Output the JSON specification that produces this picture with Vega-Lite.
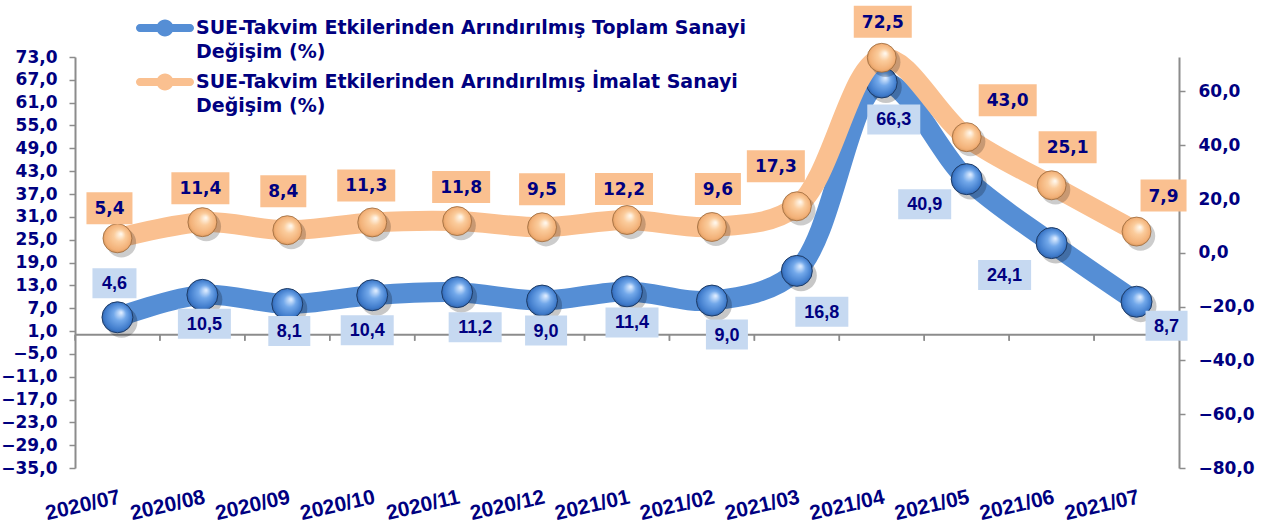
{
  "$schema": "https://vega.github.io/schema/vega-lite/v6.json",
  "width": 1104,
  "height": 411,
  "autosize": {"type": "none"},
  "padding": {"left": 75, "top": 57, "right": 86, "bottom": 56},
  "params": [
    {"name": "months", "value": ["2020/07","2020/08","2020/09","2020/10","2020/11","2020/12","2021/01","2021/02","2021/03","2021/04","2021/05","2021/06","2021/07"]},
    {"name": "bdx", "value": [-3,2,2,-5,18,4,5,15,25,12,-42,-47,30]},
    {"name": "bdy", "value": [-34,29,27,35,35,30,31,34,41,37,25,32,24]},
    {"name": "odx", "value": [-8,-2,-4,-6,4,0,-3,6,-21,1,41,16,27]},
    {"name": "ody", "value": [-30,-34,-39,-37,-34,-38,-31,-38,-40,-36,-37,-38,-36]}
  ],
  "data": {"values": [
    {"month": "2020/07", "seri": "SUE-Takvim Etkilerinden Arındırılmış Toplam Sanayi Değişim (%)", "value": 4.6},
    {"month": "2020/08", "seri": "SUE-Takvim Etkilerinden Arındırılmış Toplam Sanayi Değişim (%)", "value": 10.5},
    {"month": "2020/09", "seri": "SUE-Takvim Etkilerinden Arındırılmış Toplam Sanayi Değişim (%)", "value": 8.1},
    {"month": "2020/10", "seri": "SUE-Takvim Etkilerinden Arındırılmış Toplam Sanayi Değişim (%)", "value": 10.4},
    {"month": "2020/11", "seri": "SUE-Takvim Etkilerinden Arındırılmış Toplam Sanayi Değişim (%)", "value": 11.2},
    {"month": "2020/12", "seri": "SUE-Takvim Etkilerinden Arındırılmış Toplam Sanayi Değişim (%)", "value": 9.0},
    {"month": "2021/01", "seri": "SUE-Takvim Etkilerinden Arındırılmış Toplam Sanayi Değişim (%)", "value": 11.4},
    {"month": "2021/02", "seri": "SUE-Takvim Etkilerinden Arındırılmış Toplam Sanayi Değişim (%)", "value": 9.0},
    {"month": "2021/03", "seri": "SUE-Takvim Etkilerinden Arındırılmış Toplam Sanayi Değişim (%)", "value": 16.8},
    {"month": "2021/04", "seri": "SUE-Takvim Etkilerinden Arındırılmış Toplam Sanayi Değişim (%)", "value": 66.3},
    {"month": "2021/05", "seri": "SUE-Takvim Etkilerinden Arındırılmış Toplam Sanayi Değişim (%)", "value": 40.9},
    {"month": "2021/06", "seri": "SUE-Takvim Etkilerinden Arındırılmış Toplam Sanayi Değişim (%)", "value": 24.1},
    {"month": "2021/07", "seri": "SUE-Takvim Etkilerinden Arındırılmış Toplam Sanayi Değişim (%)", "value": 8.7},
    {"month": "2020/07", "seri": "SUE-Takvim Etkilerinden Arındırılmış İmalat Sanayi Değişim (%)", "value": 5.4},
    {"month": "2020/08", "seri": "SUE-Takvim Etkilerinden Arındırılmış İmalat Sanayi Değişim (%)", "value": 11.4},
    {"month": "2020/09", "seri": "SUE-Takvim Etkilerinden Arındırılmış İmalat Sanayi Değişim (%)", "value": 8.4},
    {"month": "2020/10", "seri": "SUE-Takvim Etkilerinden Arındırılmış İmalat Sanayi Değişim (%)", "value": 11.3},
    {"month": "2020/11", "seri": "SUE-Takvim Etkilerinden Arındırılmış İmalat Sanayi Değişim (%)", "value": 11.8},
    {"month": "2020/12", "seri": "SUE-Takvim Etkilerinden Arındırılmış İmalat Sanayi Değişim (%)", "value": 9.5},
    {"month": "2021/01", "seri": "SUE-Takvim Etkilerinden Arındırılmış İmalat Sanayi Değişim (%)", "value": 12.2},
    {"month": "2021/02", "seri": "SUE-Takvim Etkilerinden Arındırılmış İmalat Sanayi Değişim (%)", "value": 9.6},
    {"month": "2021/03", "seri": "SUE-Takvim Etkilerinden Arındırılmış İmalat Sanayi Değişim (%)", "value": 17.3},
    {"month": "2021/04", "seri": "SUE-Takvim Etkilerinden Arındırılmış İmalat Sanayi Değişim (%)", "value": 72.5},
    {"month": "2021/05", "seri": "SUE-Takvim Etkilerinden Arındırılmış İmalat Sanayi Değişim (%)", "value": 43.0},
    {"month": "2021/06", "seri": "SUE-Takvim Etkilerinden Arındırılmış İmalat Sanayi Değişim (%)", "value": 25.1},
    {"month": "2021/07", "seri": "SUE-Takvim Etkilerinden Arındırılmış İmalat Sanayi Değişim (%)", "value": 7.9}
  ]},
  "layer": [
    {
      "transform": [{"filter": "indexof(datum.seri, 'Toplam') >= 0"}],
      "encoding": {
        "x": {"field": "month", "type": "ordinal", "sort": null,
          "scale": {"type": "band", "paddingInner": 0, "paddingOuter": 0}, "axis": null},
        "y": {"datum": 0, "type": "quantitative", "scale": {"domain": [-35, 73], "nice": false, "zero": false}, "axis": null}
      },
      "layer": [
        {"mark": {"type": "point", "filled": false, "shape": "M-1,0L-1,0.1413M1,0L1,0.1413", "size": 7211, "color": "#8c8c8c", "strokeWidth": 1.5, "opacity": 1}}
      ]
    },
    {
      "transform": [{"filter": "datum.month == '2020/07' && indexof(datum.seri, 'Toplam') >= 0"}],
      "mark": {"type": "rule", "color": "#8c8c8c", "strokeWidth": 2},
      "encoding": {
        "y": {"datum": 0, "type": "quantitative", "scale": {"domain": [-35, 73], "nice": false, "zero": false}, "axis": null}
      }
    },
    {
      "transform": [{"filter": "indexof(datum.seri, 'Toplam') >= 0"}],
      "encoding": {
        "x": {"field": "month", "type": "ordinal", "sort": null,
          "scale": {"type": "band", "paddingInner": 0, "paddingOuter": 0},
          "axis": {"title": null, "domain": false, "ticks": false, "labelAngle": -13, "labelAlign": "right", "labelBaseline": "top", "labelPadding": 18, "labelFont": "Liberation Sans", "labelFontWeight": "bold", "labelFontSize": 21, "labelColor": "#000080", "labelOverlap": false, "labelBound": false, "labelFlush": false}},
        "y": {"field": "value", "type": "quantitative",
          "scale": {"domain": [-35, 73], "nice": false, "zero": false},
          "axis": {"title": null, "orient": "left", "grid": false, "values": [-35,-29,-23,-17,-11,-5,1,7,13,19,25,31,37,43,49,55,61,67,73], "format": ".1f", "labelFont": "DejaVu Sans", "labelFontWeight": "bold", "labelFontSize": 17, "labelColor": "#000080", "domainColor": "#8c8c8c", "domainWidth": 2, "tickColor": "#8c8c8c", "tickSize": 6, "tickWidth": 1.5, "labelPadding": 12}}
      },
      "layer": [
        {"mark": {"type": "line", "interpolate": "catmull-rom", "strokeWidth": 20, "strokeCap": "round", "strokeJoin": "round"},
         "encoding": {"color": {"field": "seri", "type": "nominal",
           "scale": {"domain": ["SUE-Takvim Etkilerinden Arındırılmış Toplam Sanayi Değişim (%)", "SUE-Takvim Etkilerinden Arındırılmış İmalat Sanayi Değişim (%)"], "range": ["#558ed5", "#fac090"]},
           "legend": {"orient": "none", "legendX": 75, "legendY": -44, "direction": "vertical", "title": null,
             "symbolType": "M-1.667,-0.267H1.667A0.267,0.267 0 0,1 1.667,0.267H-1.667A0.267,0.267 0 0,1 -1.667,-0.267Z M-0.567,0A0.567,0.567 0 1,1 0.567,0A0.567,0.567 0 1,1 -0.567,0Z",
             "symbolSize": 900, "labelFont": "DejaVu Sans", "labelFontWeight": "bold", "labelFontSize": 19, "labelColor": "#000080", "labelLimit": 900, "labelOffset": 16, "rowPadding": 5,
             "labelExpr": "[slice(datum.label, 0, indexof(datum.label, ' Değişim')), 'Değişim (%)']",
             "encode": {"symbols": {"update": {"fill": {"scale": "color", "field": "value"}, "strokeWidth": {"value": 0}, "opacity": {"value": 1}}}, "labels": {"update": {"lineHeight": {"value": 24}}}}}}}},
        {"mark": {"type": "point", "filled": true, "shape": "M-0.75,0.3A1.02,1.02 0 1,0 1.29,0.3A1.02,1.02 0 1,0 -0.75,0.3Z", "size": 960, "color": "#000000", "opacity": 0.22, "strokeWidth": 0}},
        {"mark": {"type": "point", "filled": true, "shape": "circle", "size": 960, "opacity": 1, "stroke": "#1d3b66", "strokeWidth": 1,
          "fill": {"gradient": "radial", "x1": 0.62, "y1": 0.35, "r1": 0.02, "x2": 0.5, "y2": 0.5, "r2": 0.55, "stops": [{"offset": 0, "color": "#dcebff"}, {"offset": 0.35, "color": "#72a8ea"}, {"offset": 0.8, "color": "#3f7bcb"}, {"offset": 1, "color": "#2a5697"}]}}},
        {"mark": {"type": "point", "filled": true, "size": 900, "color": "#c6d9f1", "opacity": 1, "strokeWidth": 0},
         "encoding": {"shape": {"field": "month", "type": "nominal", "legend": null,
           "scale": {"domain": ["2020/07","2020/08","2020/09","2020/10","2020/11","2020/12","2021/01","2021/02","2021/03","2021/04","2021/05","2021/06","2021/07"],
             "range": ["M-1.667,-3.267H1.267V-1.267H-1.667Z","M-1.633,0.933H1.9V2.933H-1.633Z","M-1.267,0.8H1.533V2.8H-1.267Z","M-2.1,1.333H1.433V3.333H-2.1Z","M-0.567,1.333H2.967V3.333H-0.567Z","M-1.133,1H1.667V3H-1.133Z","M-1.433,1.067H2.1V3.067H-1.433Z","M-0.4,1.267H2.4V3.267H-0.4Z","M-0.1,1.733H3.433V3.733H-0.1Z","M-0.967,1.467H2.567V3.467H-0.967Z","M-4.567,0.667H-1.033V2.667H-4.567Z","M-4.9,1.133H-1.367V3.133H-4.9Z","M0.6,0.6H3.4V2.6H0.6Z"]}}}},
        {"mark": {"type": "text", "font": "Liberation Sans", "fontWeight": "bold", "fontSize": 18, "color": "#000080", "align": "center", "baseline": "middle",
          "dx": {"expr": "bdx[indexof(months, datum.month)]"}, "dy": {"expr": "bdy[indexof(months, datum.month)] + 1"}},
         "encoding": {"text": {"field": "value", "type": "quantitative", "format": ".1f"}}}
      ]
    },
    {
      "transform": [{"filter": "indexof(datum.seri, 'İmalat') >= 0"}],
      "encoding": {
        "x": {"field": "month", "type": "ordinal", "sort": null,
          "scale": {"type": "band", "paddingInner": 0, "paddingOuter": 0}, "axis": null},
        "y": {"field": "value", "type": "quantitative",
          "scale": {"domain": [-80, 72.8], "nice": false, "zero": false},
          "axis": {"title": null, "orient": "right", "grid": false, "values": [-80,-60,-40,-20,0,20,40,60], "format": ".1f", "labelFont": "DejaVu Sans", "labelFontWeight": "bold", "labelFontSize": 17, "labelColor": "#000080", "domainColor": "#8c8c8c", "domainWidth": 2, "tickColor": "#8c8c8c", "tickSize": 6, "tickWidth": 1.5, "labelPadding": 13}}
      },
      "layer": [
        {"mark": {"type": "line", "interpolate": "catmull-rom", "strokeWidth": 20, "strokeCap": "round", "strokeJoin": "round"},
         "encoding": {"color": {"field": "seri", "type": "nominal"}}},
        {"mark": {"type": "point", "filled": true, "shape": "M-0.75,0.3A1.02,1.02 0 1,0 1.29,0.3A1.02,1.02 0 1,0 -0.75,0.3Z", "size": 840, "color": "#000000", "opacity": 0.2, "strokeWidth": 0}},
        {"mark": {"type": "point", "filled": true, "shape": "circle", "size": 840, "opacity": 1, "stroke": "#9c6a3c", "strokeWidth": 0.8,
          "fill": {"gradient": "radial", "x1": 0.62, "y1": 0.35, "r1": 0.02, "x2": 0.5, "y2": 0.5, "r2": 0.55, "stops": [{"offset": 0, "color": "#fff7ec"}, {"offset": 0.35, "color": "#fbcc9c"}, {"offset": 0.8, "color": "#f2b077"}, {"offset": 1, "color": "#c98a50"}]}}},
        {"mark": {"type": "point", "filled": true, "size": 1024, "color": "#fac090", "opacity": 1, "strokeWidth": 0},
         "encoding": {"shape": {"field": "month", "type": "nominal", "legend": null,
           "scale": {"domain": ["2020/07","2020/08","2020/09","2020/10","2020/11","2020/12","2021/01","2021/02","2021/03","2021/04","2021/05","2021/06","2021/07"],
             "range": ["M-1.9375,-2.875H0.9375V-0.875H-1.9375Z","M-1.9375,-3.125H1.6875V-1.125H-1.9375Z","M-1.6875,-3.4375H1.1875V-1.4375H-1.6875Z","M-2.1875,-3.3125H1.4375V-1.3125H-2.1875Z","M-1.5625,-3.125H2.0625V-1.125H-1.5625Z","M-1.4375,-3.375H1.4375V-1.375H-1.4375Z","M-2,-2.9375H1.625V-0.9375H-2Z","M-1.0625,-3.375H1.8125V-1.375H-1.0625Z","M-3.125,-3.5H0.5V-1.5H-3.125Z","M-1.75,-3.25H1.875V-1.25H-1.75Z","M0.75,-3.3125H4.375V-1.3125H0.75Z","M-0.8125,-3.375H2.8125V-1.375H-0.8125Z","M0.25,-3.25H3.125V-1.25H0.25Z"]}}}},
        {"mark": {"type": "text", "font": "DejaVu Sans", "fontWeight": "bold", "fontSize": 17, "color": "#000080", "align": "center", "baseline": "middle",
          "dx": {"expr": "odx[indexof(months, datum.month)]"}, "dy": {"expr": "ody[indexof(months, datum.month)] + 1"}},
         "encoding": {"text": {"field": "value", "type": "quantitative", "format": ".1f"}}}
      ]
    }
  ],
  "resolve": {"scale": {"y": "independent", "shape": "independent"}, "axis": {"x": "independent"}},
  "config": {
    "view": {"stroke": null},
    "locale": {"number": {"decimal": ",", "thousands": ".", "grouping": [3], "currency": ["", " TL"]}}
  }
}
